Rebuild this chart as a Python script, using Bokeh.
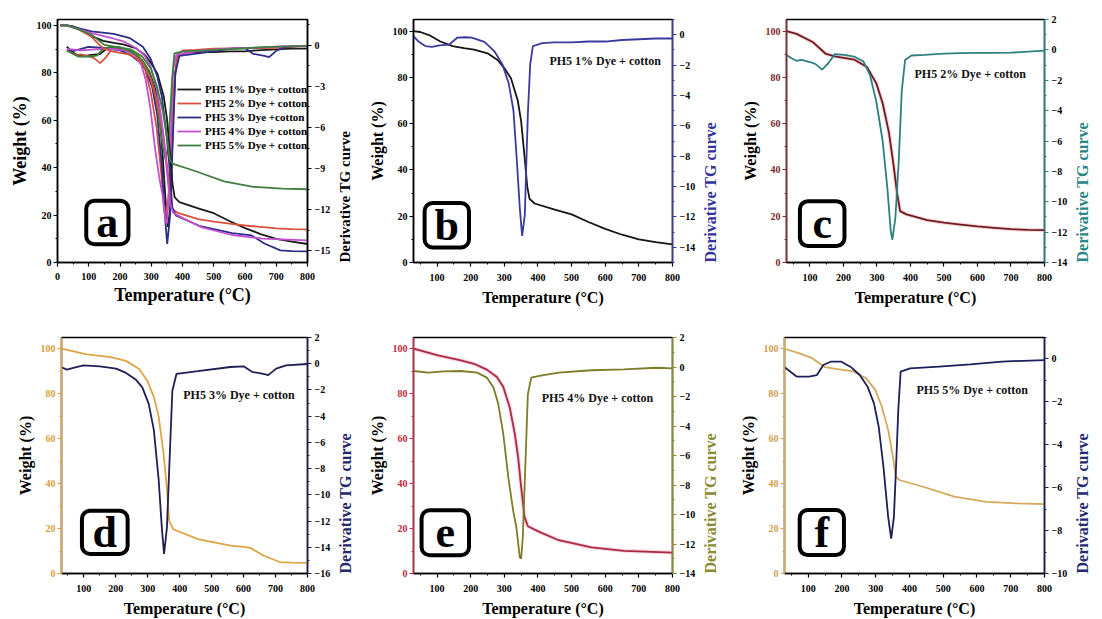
import math
from bokeh.plotting import figure
from bokeh.models import (Range1d, LinearAxis, SingleIntervalTicker, Label, Legend,
                          LegendItem, BoxAnnotation)
from bokeh.layouts import row, column
from bokeh.embed import file_html
from bokeh.resources import INLINE

FONT = "Liberation Serif"

# ---------------- data ----------------
# PH5 1% Dye + cotton
T_w1 = [8, 30, 50, 80, 110, 146, 180, 210, 250, 280, 300, 320, 340, 350, 360, 368, 375, 390, 450, 500, 550, 600, 650, 700, 750, 800]
W1 = [100, 100, 99.6, 98, 95.5, 93.5, 92.6, 92, 90.4, 87.5, 84, 79.5, 70, 61, 46, 33, 27.5, 25.5, 22.8, 20.8, 17.5, 14.5, 12, 10, 8.8, 7.8]
T_d1 = [30, 45, 65, 85, 108, 136, 160, 184, 203, 241, 270, 294, 313, 327, 337, 346, 353, 361, 365, 370, 377, 385, 413, 450, 500, 550, 600, 650, 700, 750, 800]
D1 = [-0.1, -0.45, -0.75, -0.8, -0.7, -0.65, -0.2, -0.17, -0.2, -0.47, -1.08, -1.94, -3.2, -4.96, -8.2, -11.4, -13.25, -11.85, -8.8, -5.2, -1.94, -0.75, -0.55, -0.5, -0.5, -0.45, -0.45, -0.35, -0.3, -0.25, -0.25]

# PH5 2% Dye + cotton
T_w2 = [8, 30, 60, 108, 146, 174, 232, 270, 298, 317, 336, 350, 360, 369, 388, 450, 500, 550, 600, 650, 700, 750, 800]
W2 = [100, 100, 98.8, 95.3, 90.3, 89.1, 87.7, 84.5, 77.4, 68.8, 55.9, 41.5, 30, 22.2, 20.8, 18.3, 17.2, 16.4, 15.6, 15, 14.4, 14.1, 14]
T_d2 = [30, 45, 60, 75, 100, 117, 136, 155, 174, 203, 232, 260, 279, 298, 317, 331, 341, 346, 355, 365, 374, 384, 403, 441, 500, 550, 600, 650, 700, 750, 800]
D2 = [-0.33, -0.55, -0.72, -0.66, -0.8, -0.94, -1.3, -0.88, -0.28, -0.33, -0.44, -0.77, -1.64, -3.4, -6.0, -9.1, -11.9, -12.5, -11.05, -7.3, -2.7, -0.66, -0.37, -0.33, -0.25, -0.22, -0.2, -0.2, -0.18, -0.12, -0.05]

# PH5 3% Dye + cotton
T_w3 = [8, 30, 109, 180, 232, 273, 298, 319, 334, 349, 360, 367, 380, 457, 559, 600, 621, 662, 713, 750, 800]
W3 = [100, 100, 97.5, 96.4, 94.6, 91, 85.9, 78.6, 69.9, 53.9, 37.8, 23.3, 19.7, 15.3, 12.4, 11.8, 11.4, 8, 5.1, 4.8, 4.7]
T_d3 = [30, 47, 70, 99, 150, 201, 232, 262, 283, 303, 319, 334, 344, 351, 360, 370, 377, 390, 457, 559, 600, 626, 662, 677, 702, 733, 800]
D3 = [-0.27, -0.45, -0.3, -0.12, -0.2, -0.37, -0.7, -1.2, -1.8, -3.06, -5.05, -8.8, -12.5, -14.5, -12.5, -6.3, -2.06, -0.77, -0.57, -0.25, -0.2, -0.62, -0.77, -0.87, -0.37, -0.12, -0.02]

# PH5 4% Dye + cotton
T_w4 = [8, 30, 103, 171, 210, 248, 278, 297, 316, 331, 341, 350, 360, 370, 404, 462, 559, 656, 800]
W4 = [100, 100, 97, 94.8, 93.3, 90.7, 87.4, 83, 74, 62.2, 51.9, 38.5, 25.2, 21, 18.5, 14.8, 11.6, 10.1, 9.3]
T_d4 = [30, 74, 120, 171, 219, 248, 268, 282, 297, 312, 326, 336, 346, 350, 355, 363, 370, 380, 404, 462, 559, 656, 753, 800]
D4 = [-0.27, -0.38, -0.3, -0.27, -0.38, -0.72, -1.4, -2.5, -4.55, -7.5, -9.7, -10.9, -12.9, -13.0, -11.5, -6.35, -1.85, -0.72, -0.6, -0.38, -0.22, -0.16, -0.05, -0.1]

# PH5 5% Dye + cotton
T_w5 = [8, 30, 70, 112, 150, 187, 234, 271, 299, 318, 337, 351, 360, 370, 440, 533, 627, 720, 800]
W5 = [100, 100, 98.2, 95.8, 91.8, 90.9, 89.9, 86.9, 81.7, 74.3, 63.9, 52, 43.1, 41.6, 38.6, 34.2, 31.9, 31.2, 30.9]
T_d5 = [30, 66, 103, 126, 145, 168, 197, 225, 253, 276, 295, 309, 323, 337, 346, 354, 360, 367, 374, 402, 487, 580, 674, 800]
D5 = [-0.39, -0.82, -0.82, -0.75, -0.28, -0.12, -0.12, -0.36, -0.75, -1.29, -2.07, -3.16, -5.02, -7.36, -8.37, -7.36, -5.18, -2.38, -0.59, -0.44, -0.36, -0.25, -0.12, -0.05]

series_names = ["PH5 1% Dye + cotton", "PH5 2% Dye + cotton", "PH5 3% Dye +cotton",
                "PH5 4% Dye + cotton", "PH5 5% Dye + cotton"]
panel_texts = ["PH5 1% Dye + cotton", "PH5 2% Dye + cotton", "PH5 3% Dye + cotton",
               "PH5 4% Dye + cotton", "PH5 5% Dye + cotton"]
panel_letters = ["a", "b", "c", "d", "e", "f"]
right_title = "Derivative TG curve"

W_T = [T_w1, T_w2, T_w3, T_w4, T_w5]
W_V = [W1, W2, W3, W4, W5]
D_T = [T_d1, T_d2, T_d3, T_d4, T_d5]
D_V = [D1, D2, D3, D4, D5]


def style_axis(ax, line_color, label_color, title, title_color, title_size,
               lab_standoff=2, ttl_standoff=4):
    ax.axis_label = title
    ax.axis_label_text_font = FONT
    ax.axis_label_text_font_style = "bold"
    ax.axis_label_text_font_size = title_size
    ax.axis_label_text_color = title_color
    ax.axis_label_standoff = ttl_standoff
    ax.major_label_text_font = FONT
    ax.major_label_text_font_style = "bold"
    ax.major_label_text_font_size = "10px"
    ax.major_label_text_color = label_color
    ax.major_label_standoff = lab_standoff
    ax.axis_line_color = line_color
    ax.axis_line_width = 1.5
    ax.major_tick_line_color = line_color
    ax.minor_tick_line_color = line_color
    ax.major_tick_line_width = 1.2
    ax.minor_tick_line_width = 1.0
    ax.major_tick_out = 4
    ax.major_tick_in = 0
    ax.minor_tick_out = 2
    ax.minor_tick_in = 0


def make_fig(w, h, bl, br, bt, bb, x0, ymax, d_lo, d_hi, d_int,
             left_line, left_lab, right_line, right_title_color,
             ttl_w="16px", ttl_t="16px", ttl_d="16px", x_lab_so=7, x_ttl_so=5):
    p = figure(width=w, height=h, output_backend="svg", toolbar_location=None,
               x_range=Range1d(x0, 800), y_range=Range1d(0, ymax),
               min_border_left=bl, min_border_right=br,
               min_border_top=bt, min_border_bottom=bb)
    p.extra_y_ranges = {"d": Range1d(d_lo, d_hi)}
    p.xgrid.visible = False
    p.ygrid.visible = False
    p.outline_line_color = "black"
    p.outline_line_width = 1.5
    p.xaxis.ticker = SingleIntervalTicker(interval=100, num_minor_ticks=2)
    p.yaxis.ticker = SingleIntervalTicker(interval=20, num_minor_ticks=2)
    style_axis(p.xaxis[0], "black", "black", "Temperature (°C)", "black", ttl_t,
               lab_standoff=x_lab_so, ttl_standoff=x_ttl_so)
    style_axis(p.yaxis[0], left_line, left_lab, "Weight (%)", "black", ttl_w)
    ax2 = LinearAxis(y_range_name="d",
                     ticker=SingleIntervalTicker(interval=d_int, num_minor_ticks=2))
    # reads bottom-to-top, as in the reference
    style_axis(ax2, right_line, "black", right_title, right_title_color, ttl_d,
               lab_standoff=3, ttl_standoff=12)
    ax2.axis_label_orientation = math.pi / 2
    ax2.axis_label_align = "start"
    p.add_layout(ax2, "right")
    return p


def letter_box(p, box, letter):
    l, r, t, b = box
    p.add_layout(BoxAnnotation(left=l, right=r, top=t, bottom=b, fill_color="white",
                               fill_alpha=1.0, line_color="black", line_alpha=1.0,
                               line_width=4, border_radius=8))
    p.add_layout(Label(x=(l + r) / 2, y=(t + b) / 2, text=letter, text_font=FONT,
                       text_font_style="bold", text_font_size="44px", text_color="black",
                       text_align="center", text_baseline="middle"))


def panel_text(p, x, y, txt):
    p.add_layout(Label(x=x, y=y, text=txt, text_font=FONT, text_font_style="bold",
                       text_font_size="12px", text_align="left", text_baseline="middle",
                       text_color="#111111"))


# ---------------- panel a ----------------
cols_a = ["#1a1a1a", "#d9503f", "#2e2e86", "#c44fd0", "#3f7f3f"]
pa = make_fig(365, 310, 57, 58, 14, 44, 0, 102.5, -15.85, 1.88, 3,
              "black", "black", "black", "black",
              ttl_w="18px", ttl_t="18px", ttl_d="15px", x_lab_so=6, x_ttl_so=2)
items = []
for i in range(5):
    pa.line(D_T[i], D_V[i], y_range_name="d", line_color=cols_a[i], line_width=1.8)
for i in range(5):
    r = pa.line(W_T[i], W_V[i], line_color=cols_a[i], line_width=1.8)
    items.append(LegendItem(label=series_names[i], renderers=[r]))
leg = Legend(items=items, location=(120, 111), padding=0, margin=0, spacing=2,
             glyph_width=24, glyph_height=12, label_height=12, label_standoff=4,
             label_text_font=FONT, label_text_font_style="bold", label_text_font_size="11px",
             label_text_color="black", border_line_color=None, background_fill_alpha=0)
pa.add_layout(leg)
letter_box(pa, (92, 227, 26.0, 7.7), panel_letters[0])

# ---------------- panels b-f ----------------
specs = [
    dict(w=365, h=310, b=(46, 52, 15, 48), d=(-15, 1, 2), wc="#151515", dc="#3b3b9e",
         ll="black", lt="black", rl="#3b3b9e", rt="#33339a", halo=None,
         box=(63, 195, 25.7, 6.5), txt=(434, 87.2)),
    dict(w=372, h=310, b=(56, 46, 19, 47), d=(-14, 2, 2), wc="#6e1a24", dc="#2e8080",
         ll="#8a2a30", lt="#7a2a2a", rl="#2e8080", rt="#2a8585", halo="#eab0b0",
         box=(70, 203, 26.5, 7.1), txt=(412, 81.4)),
    dict(w=365, h=309, b=(61, 53, 23, 46), d=(-16, 2, 2), wc="#e0a345", dc="#1f1f55",
         ll="#e0a345", lt="#d9a040", rl="#1f1f55", rt="#26266a", halo=None,
         box=(94, 237, 27.9, 8.7), txt=(411, 79.6)),
    dict(w=365, h=309, b=(47, 54, 25, 46), d=(-14, 2, 2), wc="#a82a45", dc="#7c7c2a",
         ll="#c0304a", lt="#c02a40", rl="#8a8a30", rt="#8a8a30", halo="#f4b0c4",
         box=(54, 195, 28.1, 8.1), txt=(411, 78.2)),
    dict(w=372, h=309, b=(54, 44, 27, 46), d=(-10, 1, 2), wc="#d7a85a", dc="#1c1f5a",
         ll="#d7a85a", lt="#d0a050", rl="#1c1f5a", rt="#242a70", halo=None,
         box=(75, 206, 28.2, 8.2), txt=(421, 81.7)),
]

panels = []
for i, s in enumerate(specs):
    bl, br, bt, bb = s["b"]
    dlo, dhi, dint = s["d"]
    p = make_fig(s["w"], s["h"], bl, br, bt, bb, 30, 105, dlo, dhi, dint,
                 s["ll"], s["lt"], s["rl"], s["rt"])
    if s["halo"]:
        p.line(W_T[i], W_V[i], line_color=s["halo"], line_width=4, line_alpha=0.5)
    p.line(W_T[i], W_V[i], line_color=s["wc"], line_width=1.8)
    p.line(D_T[i], D_V[i], y_range_name="d", line_color=s["dc"], line_width=1.8)
    letter_box(p, s["box"], panel_letters[i + 1])
    panel_text(p, s["txt"][0], s["txt"][1], panel_texts[i])
    panels.append(p)

layout = column(row(pa, panels[0], panels[1]), row(panels[2], panels[3], panels[4]))

with open("out.html", "w") as f:
    f.write(file_html(layout, INLINE))
